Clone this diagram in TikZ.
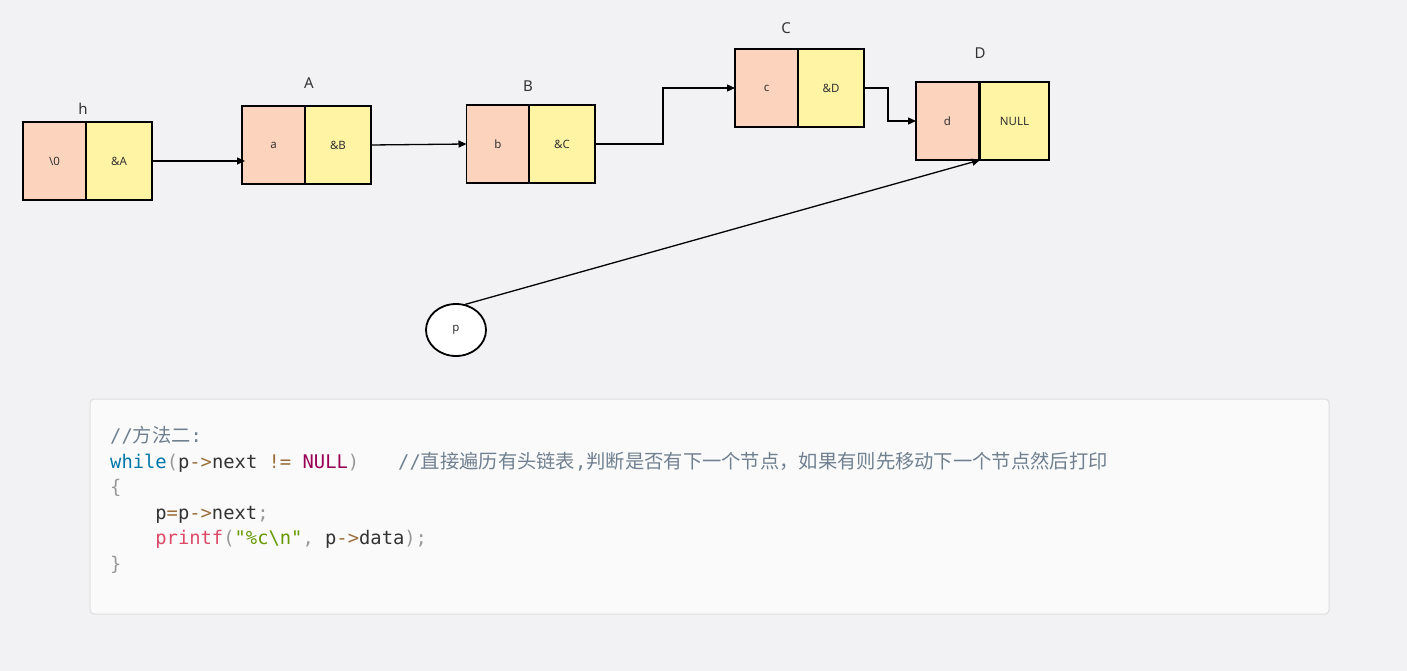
\documentclass[tikz,border=0pt]{standalone}
\usepackage{fontspec}
\setmainfont{Noto Sans}
\setmonofont{DejaVu Sans Mono}
\newfontfamily\cjkfam{Noto Sans CJK SC}
\newcommand\cjk{\cjkfam\fontsize{19.3}{25.5}\selectfont}
\usetikzlibrary{arrows.meta,shapes.geometric}
\definecolor{bg}{HTML}{F2F2F4}
\definecolor{peach}{HTML}{FCD3BC}
\definecolor{lemon}{HTML}{FFF4A3}
\definecolor{codebg}{HTML}{FAFAFA}
\definecolor{codeln}{HTML}{DDDDDD}
\definecolor{txt}{HTML}{333333}
\definecolor{kw}{HTML}{0077AA}
\definecolor{op}{HTML}{9A6E3A}
\definecolor{cst}{HTML}{990055}
\definecolor{fn}{HTML}{DD4A68}
\definecolor{str}{HTML}{669900}
\definecolor{pun}{HTML}{999999}
\definecolor{cm}{HTML}{708090}
\tikzset{
  cell/.style={draw=black, line width=1.8pt, minimum height=78pt, inner sep=0pt, outer sep=0pt,
    text=txt, font=\fontsize{11.5}{13}\selectfont},
  cellL/.style={cell, fill=peach, minimum width=63pt},
  cellR/.style={cell, fill=lemon, minimum width=66pt},
  lbl/.style={text=txt, font=\fontsize{15}{18}\selectfont, inner sep=0pt},
  link/.style={draw=black, line width=1.3pt, -{Triangle[length=8pt,width=7pt]}},
  codeline/.style={anchor=base west, inner sep=0pt, text=txt, font=\ttfamily\fontsize{18.8}{25.5}\selectfont}
}
\begin{document}
\begin{tikzpicture}[x=1pt,y=-1pt]
\fill[bg] (0,0) rectangle (1407,671);
\useasboundingbox (0,0) rectangle (1407,671);
% list nodes
\node[cellL] (hL) at (54.5,161) {\textbackslash 0};
\node[cellR] (hR) at (119,161) {\&A};
\node[cellL] (aL) at (273.5,145) {a};
\node[cellR] (aR) at (338,145) {\&B};
\node[cellL] (bL) at (498,144) {b};
\node[cellR] (bR) at (562,144) {\&C};
\node[cellL] (cL) at (766.5,88) {c};
\node[cellR] (cR) at (831,88) {\&D};
\node[cellL] (dL) at (947.5,121) {d};
\node[cellR, minimum width=69pt] (dR) at (1014.5,121) {NULL};
% labels
\node[lbl] (lh) at (83,109) {h};
\node[lbl] (la) at (309,83) {A};
\node[lbl] (lb) at (528,86) {B};
\node[lbl] (lc) at (786,28) {C};
\node[lbl] (ld) at (980,53) {D};
% pointer p
\node[draw=black, line width=1.8pt, fill=white, ellipse, minimum width=60pt, minimum height=52pt,
  inner sep=0pt, text=txt, font=\fontsize{11.5}{13}\selectfont] (p) at (456,330) {p};
% links
\draw[link] (hR.east) -- ([xshift=3pt]hR.east -| aL.west);
\draw[link] (aR.east) -- (bL.west);
\draw[link] (bR.east) -- ++(68,0) |- (cL.west);
\draw[link] (cR.east) -- ++(24,0) |- (dL.west);
\draw[link] (p.70) -- (dR.south west);
% code block
\draw[fill=codebg, draw=codeln, line width=1pt, rounded corners=4pt] (90,399) rectangle (1329,614);
\node[codeline, text=cm] (c1) at (110,442.5) {//{\cjk 方法二}:};
\node[codeline] (c2) at (110,468) {\textcolor{kw}{while}\textcolor{pun}{(}p\textcolor{op}{->}next \textcolor{op}{!=} \textcolor{cst}{NULL}\textcolor{pun}{)}};
\node[codeline, text=cm] (c2b) at (398,468) {//{\cjk 直接遍历有头链表},{\cjk 判断是否有下一个节点，如果有则先移动下一个节点然后打印}};
\node[codeline, text=pun] (c3) at (110,493.5) {\{};
\node[codeline] (c4) at (155.2,519) {p\textcolor{op}{=}p\textcolor{op}{->}next\textcolor{pun}{;}};
\node[codeline] (c5) at (155.2,544.5) {\textcolor{fn}{printf}\textcolor{pun}{(}\textcolor{str}{"\%c\textbackslash n"}\textcolor{pun}{,} p\textcolor{op}{->}data\textcolor{pun}{);}};
\node[codeline, text=pun] (c6) at (110,570) {\}};
\end{tikzpicture}
\end{document}
